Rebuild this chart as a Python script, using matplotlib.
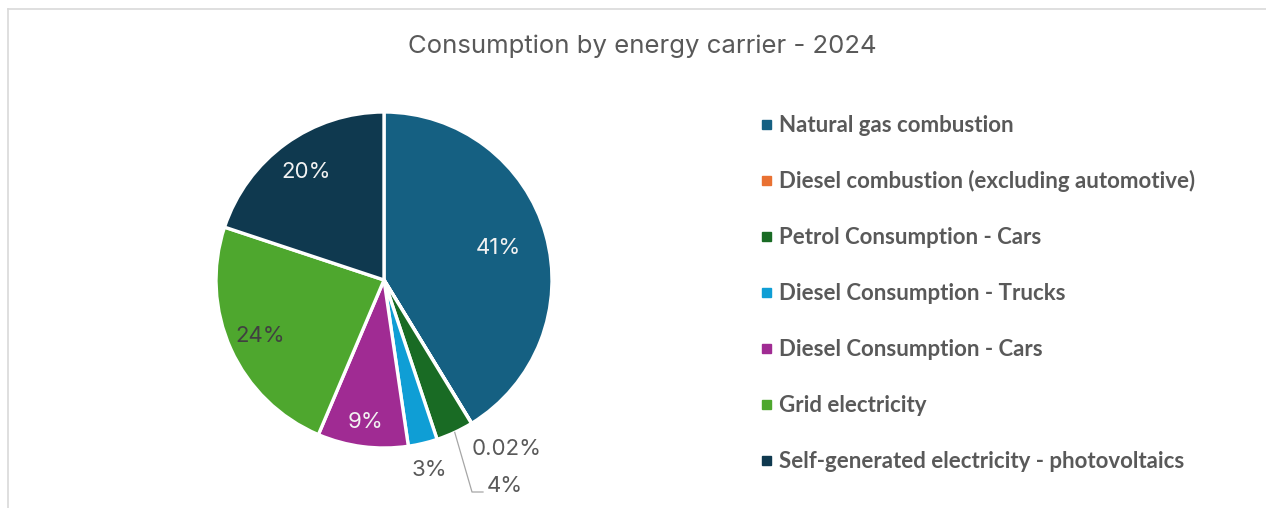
import numpy as np
import matplotlib
matplotlib.use("Agg")
import matplotlib.pyplot as plt
from matplotlib.lines import Line2D
from matplotlib.patches import Rectangle

# Energy carriers and their share of consumption (%)
categories = [
    "Natural gas combustion",
    "Diesel combustion (excluding automotive)",
    "Petrol Consumption - Cars",
    "Diesel Consumption - Trucks",
    "Diesel Consumption - Cars",
    "Grid electricity",
    "Self-generated electricity - photovoltaics",
]
shares = [41.25, 0.02, 3.6, 2.8, 8.7, 23.7, 19.9]
colors = ["#156082", "#E97132", "#196B24", "#0F9ED5", "#A02B93", "#4EA72E", "#0F394F"]
title = "Consumption by energy carrier - 2024"


def pct_text(v):
    return f"{v:.2f}%" if v < 1 else f"{v:.0f}%"


W, H = 1266, 508
fig = plt.figure(figsize=(W / 100, H / 100), dpi=100)
fig.patch.set_facecolor("white")

# light frame along top and left edges
fig.add_artist(Line2D([8 / W, 1], [1 - 9 / H, 1 - 9 / H], color="#D9D9D9", lw=1.2))
fig.add_artist(Line2D([8 / W, 8 / W], [0, 1 - 9 / H], color="#D9D9D9", lw=1.2))

fig.text(642 / W, 1 - 46 / H, title, ha="center", va="center",
         fontsize=18.5, color="#595959", family="Inter")

cx, cy, R = 384, 280, 168
ax = fig.add_axes([(cx - R) / W, (H - cy - R) / H, 2 * R / W, 2 * R / H])

wedges, _ = ax.pie(shares, colors=colors, startangle=90, counterclock=False,
                   radius=1, wedgeprops=dict(edgecolor="white", linewidth=2.4))
ax.set_xlim(-1, 1)
ax.set_ylim(-1, 1)
ax.axis("off")

LBL = 16
# label radius (fraction of R) and colour per slice
label_r = [0.71, 1.24, 1.32, 1.16, 0.85, 0.81, 0.79]
label_c = ["#F2F2F2", "#595959", "#595959", "#595959", "#F2F2F2", "#404040", "#F2F2F2"]

for i, (w, v) in enumerate(zip(wedges, shares)):
    mid = np.deg2rad((w.theta1 + w.theta2) / 2)
    x, y = label_r[i] * np.cos(mid), label_r[i] * np.sin(mid)
    if i == 1:
        x, y = (507 - cx) / R, (cy - 449) / R
        ax.text(x, y, pct_text(v), ha="center", va="center", fontsize=LBL,
                color=label_c[i], family="Inter", clip_on=False)
        continue
    if i == 2:
        ex, ey = np.cos(mid), np.sin(mid)
        kx, ky = (472 - cx) / R, (cy - 492) / R
        ax.plot([ex, kx, kx + 11 / R], [ey, ky, ky], color="#A6A6A6", lw=0.9,
                clip_on=False)
        ax.text((487 - cx) / R, (cy - 486) / R, pct_text(v), ha="left",
                va="center", fontsize=LBL, color=label_c[i], family="Inter",
                clip_on=False)
        continue
    ax.text(x, y, pct_text(v), ha="center", va="center", fontsize=LBL,
            color=label_c[i], family="Inter", clip_on=False)

# legend
row0, step = 125, 56
for i, (name, col) in enumerate(zip(categories, colors)):
    yy = row0 + i * step
    fig.add_artist(Rectangle((762 / W, 1 - (yy + 4) / H), 9 / W, 9 / H,
                             color=col, transform=fig.transFigure))
    fig.text(779 / W, 1 - yy / H, name, ha="left", va="center", fontsize=16,
             color="#595959", family="Lato", fontweight="bold")

fig.savefig("out.png", dpi=100, facecolor="white")
